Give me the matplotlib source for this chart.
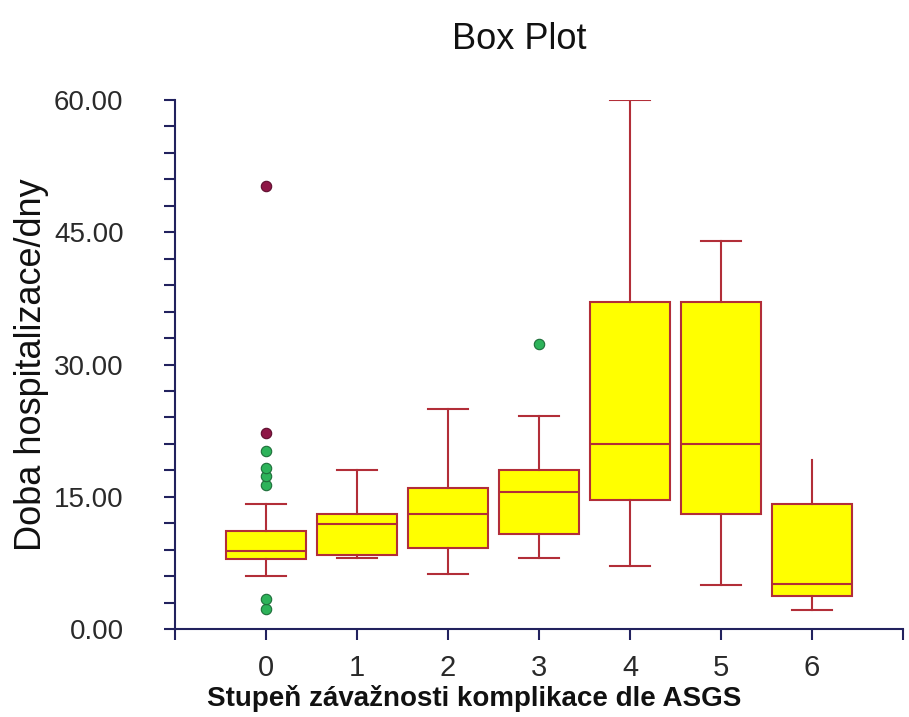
import matplotlib

matplotlib.use("Agg")
import matplotlib.pyplot as plt
from matplotlib.ticker import MultipleLocator, FormatStrFormatter

plt.rcParams["font.family"] = ["Liberation Sans", "DejaVu Sans"]

# ASGS complication grade vs. hospital stay (days)
GROUPS = [0, 1, 2, 3, 4, 5, 6]
WHISK_LO = [6.0, 8.0, 6.2, 8.0, 7.1, 5.0, 2.2]
Q1 = [7.9, 8.4, 9.2, 10.8, 14.6, 13.0, 3.7]
MEDIAN = [8.9, 11.9, 13.0, 15.5, 21.0, 21.0, 5.1]
Q3 = [11.1, 13.0, 16.0, 18.0, 37.1, 37.1, 14.2]
WHISK_HI = [14.2, 18.0, 25.0, 24.2, 60.0, 44.0, 19.2]
# outliers: green = mild, red = far
MILD_OUT = [[2.3, 3.4, 16.3, 17.3, 18.3, 20.2], [], [], [32.3], [], [], []]
FAR_OUT = [[22.2, 50.2], [], [], [], [], [], []]
NO_UPPER_CAP = [6]

YELLOW = "#FFFF00"
RED = "#B22E38"
NAVY = "#22225E"
GREEN = "#2DB35A"
MAROON = "#8E1646"


def main():
    fig = plt.figure(figsize=(9.09, 7.17), dpi=100)
    ax = fig.add_axes([0.1925, 0.1227, 0.8009, 0.7378])

    stats = []
    for i, g in enumerate(GROUPS):
        stats.append(
            dict(
                label=str(g),
                whislo=WHISK_LO[i],
                q1=Q1[i],
                med=MEDIAN[i],
                q3=Q3[i],
                whishi=WHISK_HI[i],
                fliers=[],
            )
        )

    bp = ax.bxp(
        stats,
        positions=GROUPS,
        widths=0.87,
        patch_artist=True,
        showfliers=False,
        boxprops=dict(facecolor=YELLOW, edgecolor=RED, linewidth=1.5),
        medianprops=dict(color=RED, linewidth=1.5),
        whiskerprops=dict(color=RED, linewidth=1.5),
        capprops=dict(color=RED, linewidth=1.5),
        capwidths=0.44,
        manage_ticks=False,
        zorder=2,
    )
    for g in NO_UPPER_CAP:
        bp["caps"][2 * GROUPS.index(g) + 1].set_visible(False)

    for i, g in enumerate(GROUPS):
        if MILD_OUT[i]:
            ax.plot(
                [g] * len(MILD_OUT[i]), MILD_OUT[i], "o", ms=7.5,
                mfc=GREEN, mec="#1E6E3A", mew=0.8, zorder=3,
            )
        if FAR_OUT[i]:
            ax.plot(
                [g] * len(FAR_OUT[i]), FAR_OUT[i], "o", ms=7.5,
                mfc=MAROON, mec="#5E0E2E", mew=0.8, zorder=3,
            )

    ax.set_xlim(-1, 7)
    ax.set_ylim(0, 60)
    ax.set_xticks(range(-1, 8))
    ax.set_xticklabels([""] + [str(g) for g in GROUPS] + [""])
    ax.yaxis.set_major_locator(MultipleLocator(15))
    ax.yaxis.set_minor_locator(MultipleLocator(3))
    ax.yaxis.set_major_formatter(FormatStrFormatter("%.2f"))

    for side in ("top", "right"):
        ax.spines[side].set_visible(False)
    for side in ("left", "bottom"):
        ax.spines[side].set_color(NAVY)
        ax.spines[side].set_linewidth(1.5)
    ax.tick_params(which="both", direction="out", color=NAVY, width=1.5, length=8)
    ax.tick_params(axis="y", labelsize=20, pad=29, labelcolor="#2a2a2a")
    ax.tick_params(axis="x", labelsize=21, pad=10, labelcolor="#2a2a2a")

    fig.text(0.571, 0.931, "Box Plot", fontsize=26, ha="center", va="baseline",
             color="#111111")
    fig.text(0.035, 0.492, "Doba hospitalizace/dny", fontsize=26, rotation=90,
             ha="center", va="center", color="#111111")
    fig.text(0.522, 0.026, "Stupeň závažnosti komplikace dle ASGS", fontsize=20,
             fontweight="bold", ha="center", va="center", color="#111111")

    fig.savefig("out.png", dpi=100)
    plt.close(fig)


if __name__ == "__main__":
    main()
